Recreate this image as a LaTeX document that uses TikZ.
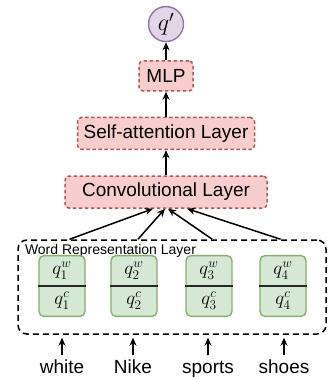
\RequirePackage{fix-cm}
\documentclass[tikz,border=0pt]{standalone}
\usepackage{fontspec}
\setmainfont{Liberation Sans}
\usepackage{tikz}
\usetikzlibrary{positioning, calc, shapes.multipart, arrows.meta}

\definecolor{layerfill}{HTML}{F8CECC}
\definecolor{layerdraw}{HTML}{B85450}
\definecolor{cellfill}{HTML}{D5E8D4}
\definecolor{celldraw}{HTML}{82B366}
\definecolor{outfill}{HTML}{E1D5E7}
\definecolor{outdraw}{HTML}{9673A6}

\newcommand{\cellstrut}{\rule[-11pt]{0pt}{29pt}}

\begin{document}
\begin{tikzpicture}[x=1pt, y=1pt, node distance=25pt, auto, line width=1.5pt, >={Stealth[length=8pt, width=7pt]}]
        % Define block styles
        \tikzstyle{layer} = [rectangle, draw=layerdraw, fill=layerfill, line width=1.5pt, dash pattern=on 3.5pt off 2.5pt, rounded corners=4pt, minimum height=32pt, inner xsep=0pt, font=\fontsize{19}{22}\selectfont]
        \tikzstyle{cell} = [rectangle split, rectangle split parts=2, rectangle split draw splits=false, draw=celldraw, fill=cellfill, line width=1.4pt, rounded corners=5pt, text width=46pt, align=center, inner xsep=0pt, inner ysep=0pt, font=\fontsize{19}{22}\selectfont]
        \tikzstyle{split} = [draw=black!85, line width=1.4pt]
        \tikzstyle{word} = [anchor=base, inner sep=3pt, text height=14pt, text depth=4pt, font=\fontsize{19}{22}\selectfont]

        % Fix the picture size
        \useasboundingbox (0,0) rectangle (334,-379);

        % Place nodes
        \node [layer, minimum width=202pt] (conv) at (166,-192) {Convolutional Layer};
        \node [layer, minimum width=177pt, above=of conv] (attention) {Self-attention Layer};
        \node [layer, minimum width=54pt, minimum height=30pt, above=of attention] (mlp) {MLP};
        \node [circle, draw=outdraw, fill=outfill, line width=1.4pt, minimum size=35pt, inner sep=0pt, above=18pt of mlp] (output) {\fontsize{24}{28}\selectfont $q'$};

        \node [draw, dash pattern=on 6pt off 4pt, rounded corners=9pt, minimum width=308pt, minimum height=94pt] (word_layer) at (172,-287) {};
        \node [anchor=north west, inner sep=1pt, font=\fontsize{14}{16}\selectfont] (word_label) at ($(word_layer.north west)+(6,-3)$) {Word Representation Layer};

        \node [cell] (cell_1) at (62,-286) {$q_1^w$\cellstrut \nodepart{two} $q_1^c$\cellstrut};
        \node [cell] (cell_2) at (134,-286) {$q_2^w$\cellstrut \nodepart{two} $q_2^c$\cellstrut};
        \node [cell] (cell_3) at (209,-286) {$q_3^w$\cellstrut \nodepart{two} $q_3^c$\cellstrut};
        \node [cell] (cell_4) at (283,-286) {$q_4^w$\cellstrut \nodepart{two} $q_4^c$\cellstrut};

        \node [word] (white) at (62,-373) {white};
        \node [word] (nike) at (133,-373) {Nike};
        \node [word] (sports) at (208,-373) {sports};
        \node [word] (shoes) at (284,-373) {shoes};

        % Split lines inside the cells
        \draw [split] (cell_1.text split west) -- (cell_1.text split east);
        \draw [split] (cell_2.text split west) -- (cell_2.text split east);
        \draw [split] (cell_3.text split west) -- (cell_3.text split east);
        \draw [split] (cell_4.text split west) -- (cell_4.text split east);

        % Draw connections as arrows
        \draw [->] (conv) -- (attention);
        \draw [->] (attention) -- (mlp);
        \draw [->] (mlp) -- (output);

        \draw [->] ($(word_layer.north west)!0.169!(word_layer.north east)$) -- ($(conv.south west)!0.436!(conv.south east)$);
        \draw [->] ($(word_layer.north west)!0.39!(word_layer.north east)$) -- ($(conv.south west)!0.495!(conv.south east)$);
        \draw [->] ($(word_layer.north west)!0.63!(word_layer.north east)$) -- ($(conv.south west)!0.51!(conv.south east)$);
        \draw [->] ($(word_layer.north west)!0.851!(word_layer.north east)$) -- ($(conv.south west)!0.604!(conv.south east)$);

        \draw [->, shorten >=3pt] (white.north) -- (white.north |- word_layer.south);
        \draw [->, shorten >=3pt] (nike.north) -- (nike.north |- word_layer.south);
        \draw [->, shorten >=3pt] (sports.north) -- (sports.north |- word_layer.south);
        \draw [->, shorten >=3pt] (shoes.north) -- (shoes.north |- word_layer.south);
    \end{tikzpicture}
\end{document}
